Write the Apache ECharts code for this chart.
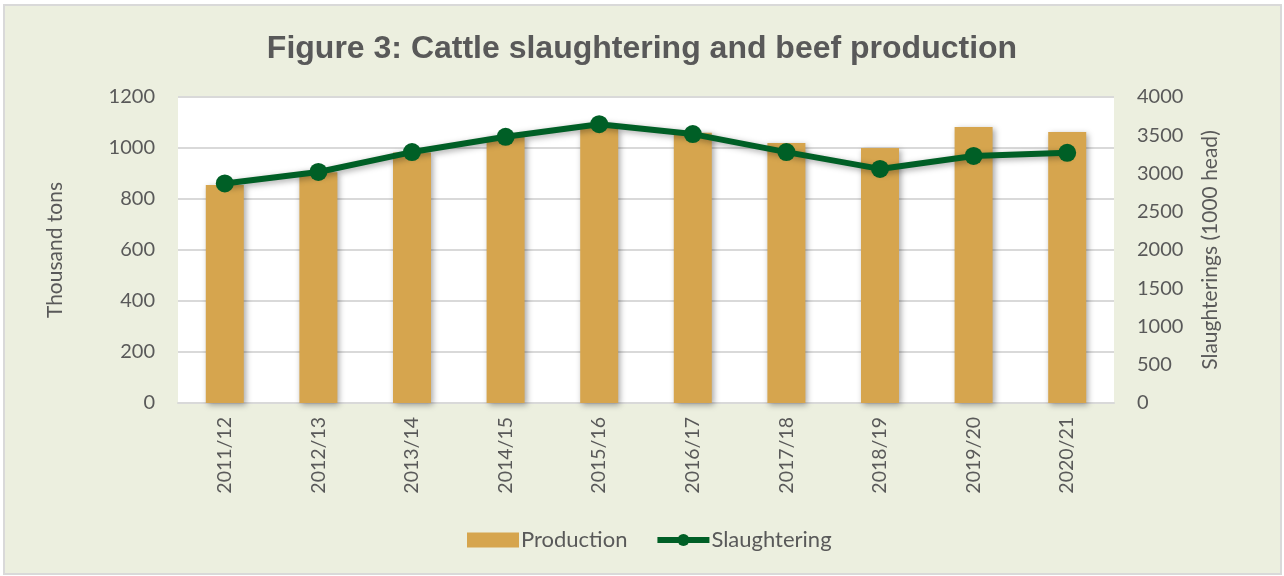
<!DOCTYPE html>
<html><head><meta charset="utf-8">
<script src="https://cdn.jsdelivr.net/npm/echarts@6/dist/echarts.min.js"></script>
<style>html,body{margin:0;padding:0;background:#fff}#c{width:1284px;height:576px}</style>
</head><body><div id="c"></div>
<script>
const categories = ['2011/12','2012/13','2013/14','2014/15','2015/16','2016/17','2017/18','2018/19','2019/20','2020/21'];
const production = [855, 905, 982, 1043, 1078, 1060, 1020, 1000, 1082, 1063];
const slaughtering = [2870, 3020, 3280, 3480, 3645, 3515, 3280, 3060, 3230, 3270];
const leftTicks = [0, 1200, 200];
const rightTicks = [0, 4000, 500];

const chart = echarts.init(document.getElementById('c'));
const font = 'Lato, "Open Sans", sans-serif';
const plain = v => String(v);
chart.setOption({
  backgroundColor: '#fff',
  graphic: [{type:'rect', shape:{x:4,y:5,width:1277,height:569}, style:{fill:'#ECEFDF', stroke:'#D9D9D9', lineWidth:2}, z:-10}],
  title: {text:'Figure 3: Cattle slaughtering and beef production', left:'center', top:28,
    textStyle:{fontFamily:'"Liberation Sans", Arial, sans-serif', fontWeight:'bold', fontSize:32, color:'#595959'}},
  legend: {bottom:20, left:462, itemWidth:52, itemHeight:15, itemGap:27,
    textStyle:{fontFamily:font, fontSize:22, color:'#595959', padding:[0,0,0,-3]},
    data:[{name:'Production', icon:'rect'},
          {name:'Slaughtering', itemStyle:{color:'#005F26'}, lineStyle:{width:6, color:'#005F26'}}]},
  grid: {left:178, right:170, top:97, bottom:173, backgroundColor:'#fff', show:true, borderWidth:0},
  xAxis: {type:'category', data:categories,
    axisLine:{lineStyle:{color:'#D9D9D9', width:2}}, axisTick:{show:false},
    axisLabel:{rotate:90, fontFamily:font, fontSize:19.5, color:'#595959', margin:14}},
  yAxis: [
    {type:'value', min:leftTicks[0], max:leftTicks[1], interval:leftTicks[2],
     name:'Thousand tons', nameLocation:'middle', nameGap:112,
     nameTextStyle:{fontFamily:font, fontSize:21, color:'#595959'},
     axisLabel:{fontFamily:font, fontSize:20, color:'#595959', margin:23, formatter:plain},
     splitLine:{lineStyle:{color:'#D9D9D9', width:2}}, axisLine:{show:false}, axisTick:{show:false}},
    {type:'value', min:rightTicks[0], max:rightTicks[1], interval:rightTicks[2], position:'right',
     name:'Slaughterings (1000 head)', nameLocation:'middle', nameGap:86,
     nameTextStyle:{fontFamily:font, fontSize:21, color:'#595959'},
     axisLabel:{fontFamily:font, fontSize:20, color:'#595959', margin:23, formatter:plain},
     splitLine:{show:false}, axisLine:{show:false}, axisTick:{show:false}}
  ],
  series: [
    {name:'Production', type:'bar', data:production, barWidth:38, yAxisIndex:0,
     itemStyle:{color:'#D6A54E', shadowColor:'rgba(0,0,0,0.35)', shadowBlur:6, shadowOffsetX:2, shadowOffsetY:2}},
    {name:'Slaughtering', type:'line', data:slaughtering, yAxisIndex:1, symbol:'circle', symbolSize:18,
     lineStyle:{color:'#005F26', width:6, shadowColor:'rgba(0,0,0,0.35)', shadowBlur:6, shadowOffsetX:2, shadowOffsetY:2},
     itemStyle:{color:'#005F26'}}
  ]
});
</script></body></html>
